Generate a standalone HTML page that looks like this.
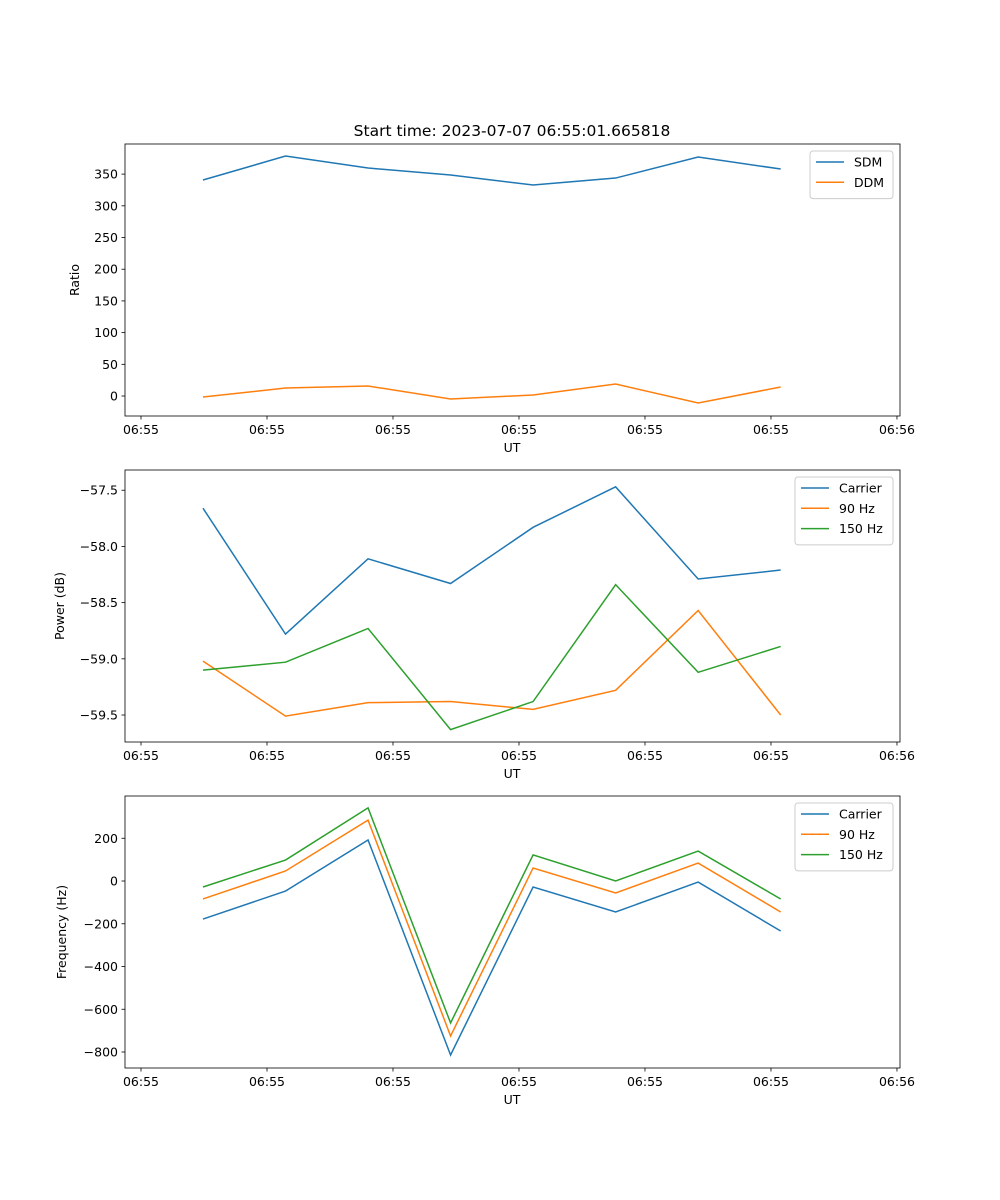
<!DOCTYPE html>
<html><head><meta charset="utf-8"><style>
body{margin:0;background:#fff;}
svg{display:block;font-family:"DejaVu Sans","Liberation Sans",sans-serif;}
</style></head><body>
<svg id="fig" width="1000" height="1200" viewBox="0 0 1000 1200" xmlns="http://www.w3.org/2000/svg">
<rect width="1000" height="1200" fill="#fff"/>
<text x="512" y="136" font-size="15.5" text-anchor="middle" fill="#000">Start time: 2023-07-07 06:55:01.665818</text>
</svg>
<script>
// time of each sample (seconds after 06:55:00)
const times = [4.92, 11.47, 18.02, 24.57, 31.12, 37.67, 44.22, 50.77];
const xTickValues = [0, 10, 20, 30, 40, 50, 60];
const xTickLabels = ["06:55","06:55","06:55","06:55","06:55","06:55","06:56"];
const sdm = [340.7, 378.5, 359.6, 348.6, 332.8, 343.8, 377, 358];
const ddm = [-1.6, 12.6, 15.8, -4.7, 1.6, 18.9, -11, 14.2];
const powCarrier = [-57.66, -58.78, -58.11, -58.33, -57.83, -57.47, -58.29, -58.21];
const pow90 = [-59.02, -59.51, -59.39, -59.38, -59.45, -59.28, -58.57, -59.50];
const pow150 = [-59.10, -59.03, -58.73, -59.63, -59.38, -58.34, -59.12, -58.89];
const freqCarrier = [-178, -47, 192, -814, -28, -145, -5, -234];
const freq90 = [-84, 47, 285, -725, 61, -56, 84, -145];
const freq150 = [-28, 98, 342, -664, 122, 0, 140, -84];
const ticks1 = [0, 50, 100, 150, 200, 250, 300, 350];
const ticks1Labels = ["0","50","100","150","200","250","300","350"];
const ticks2 = [-59.5, -59.0, -58.5, -58.0, -57.5];
const ticks2Labels = ["\u221259.5","\u221259.0","\u221258.5","\u221258.0","\u221257.5"];
const ticks3 = [-800, -600, -400, -200, 0, 200];
const ticks3Labels = ["\u2212800","\u2212600","\u2212400","\u2212200","0","200"];

const NS = "http://www.w3.org/2000/svg";
const svg = document.getElementById("fig");
const X0 = 125, X1 = 900, xmin = -1.27, xmax = 60.24;
const xs = t => X0 + (t - xmin) / (xmax - xmin) * (X1 - X0);
function mk(tag, attrs, parent) {
  const e = document.createElementNS(NS, tag);
  for (const k in attrs) e.setAttribute(k, attrs[k]);
  (parent || svg).appendChild(e);
  return e;
}
const C = ["#1f77b4", "#ff7f0e", "#2ca02c"];
function panel(id, top, bottom, ymin, ymax, yt, ytl, ylabel, ylabX, series, names, legW) {
  const g = mk("g", {});
  
  
  const ys = v => bottom - (v - ymin) / (ymax - ymin) * (bottom - top);
  yt.forEach((v, i) => {
    const y = ys(v);
    mk("line", {x1: X0 - 3.5, x2: X0, y1: y, y2: y, stroke: "#000", "stroke-width": 0.8}, g);
    const t = mk("text", {x: X0 - 7, y: y + 4.5, "font-size": 12.5, "text-anchor": "end"}, g);
    t.textContent = ytl[i];
    
    
  });
  xTickValues.forEach((v, i) => {
    const x = xs(v);
    mk("line", {x1: x, x2: x, y1: bottom, y2: bottom + 3.5, stroke: "#000", "stroke-width": 0.8}, g);
    const t = mk("text", {x: x, y: bottom + 18, "font-size": 12.5, "text-anchor": "middle"}, g);
    t.textContent = xTickLabels[i];
    
    
  });
  series.forEach((s, k) => {
    const p = mk("polyline", {points: s.map((v, i) => xs(times[i]) + "," + ys(v)).join(" "), fill: "none", stroke: C[k], "stroke-width": 1.5}, g);
    
    
  });
  mk("rect", {x: X0, y: top, width: X1 - X0, height: bottom - top, fill: "none", stroke: "#000", "stroke-width": 0.8}, g);
  const xl = mk("text", {x: 512, y: bottom + 36, "font-size": 12.5, "text-anchor": "middle"}, g);
  xl.textContent = "UT";
  
  
  const cy = (top + bottom) / 2;
  const yl = mk("text", {x: ylabX, y: cy, "font-size": 12.5, "text-anchor": "middle", transform: `rotate(-90 ${ylabX} ${cy})`}, g);
  yl.textContent = ylabel;
  
  
  const lx = 893 - legW, ly = top + 7;
  const lg = mk("g", {}, g);
  
  
  mk("rect", {x: lx, y: ly, width: legW, height: 7 + 20.3 * names.length, rx: 3, fill: "#fff", "fill-opacity": 0.8, stroke: "#ccc"}, lg);
  names.forEach((n, k) => {
    const y = ly + 11 + 20.3 * k;
    mk("line", {x1: lx + 6, x2: lx + 34, y1: y, y2: y, stroke: C[k], "stroke-width": 1.5}, lg);
    const t = mk("text", {x: lx + 44, y: y + 4.5, "font-size": 12.5}, lg);
    t.textContent = n;
    
    
  });
}
panel("ratio", 144, 416, -31.5, 397.5, ticks1, ticks1Labels, "Ratio", 79, [sdm, ddm], ["SDM", "DDM"], 83);
panel("power", 470, 742, -59.74, -57.32, ticks2, ticks2Labels, "Power (dB)", 64, [powCarrier, pow90, pow150], ["Carrier", "90 Hz", "150 Hz"], 98);
panel("frequency", 796, 1068, -874.8, 397.7, ticks3, ticks3Labels, "Frequency (Hz)", 66, [freqCarrier, freq90, freq150], ["Carrier", "90 Hz", "150 Hz"], 98);
</script>
</body></html>
